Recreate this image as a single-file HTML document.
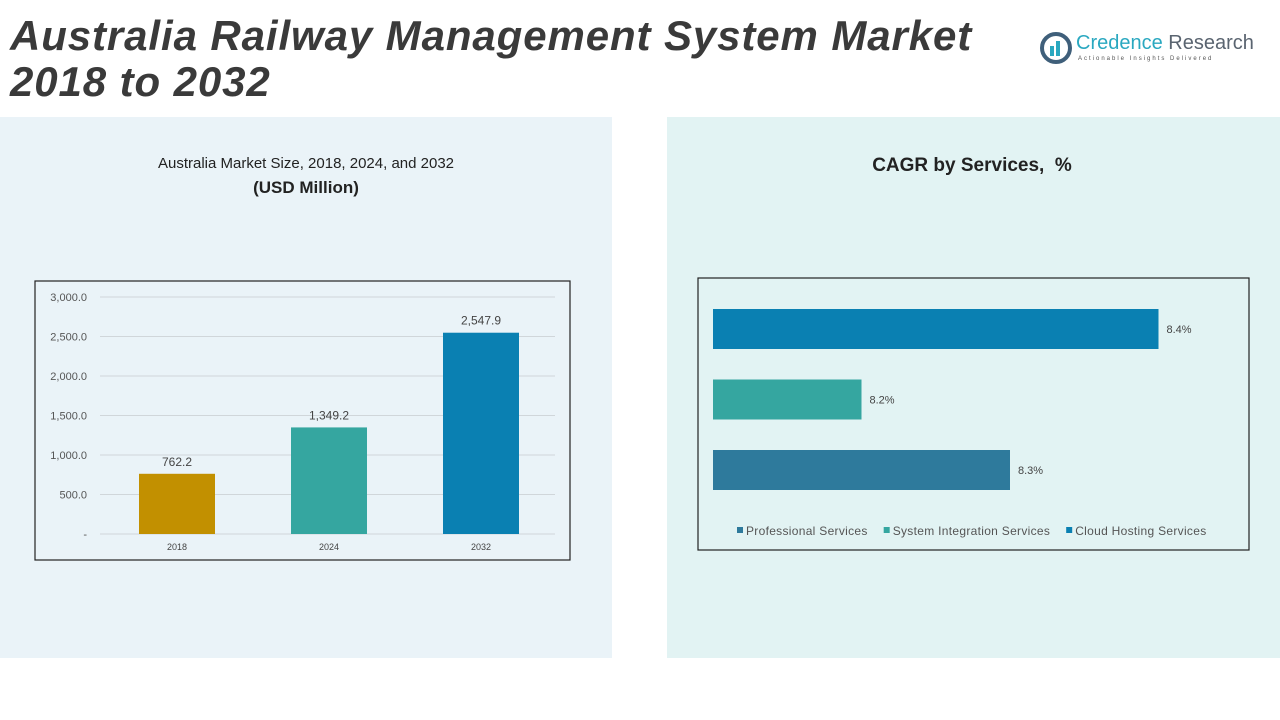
<!DOCTYPE html>
<html><head><meta charset="utf-8"><style>
body{margin:0;width:1280px;height:720px;background:#fff;position:relative;overflow:hidden;font-family:"Liberation Sans",sans-serif}
.abs{position:absolute}
</style></head><body>
<div class="abs" style="left:0;top:117px;width:612px;height:541px;background:#eaf3f8"></div>
<div class="abs" style="left:667px;top:117px;width:613px;height:541px;background:#e2f3f3"></div>
<div class="abs" style="left:10px;top:13px;font-size:42px;font-weight:bold;font-style:italic;color:#3a3a3a;line-height:46px;letter-spacing:0.9px">Australia Railway Management System Market<br>2018 to 2032</div>
<div class="abs" style="left:1040px;top:32px;width:215px;height:36px">
<svg width="32" height="32" style="position:absolute;left:0;top:0"><circle cx="16" cy="16" r="14" fill="none" stroke="#3f5f7a" stroke-width="4"/><rect x="10" y="14" width="4" height="10" fill="#2aa8c0"/><rect x="16" y="9" width="4" height="15" fill="#2aa8c0"/></svg>
<div class="abs" style="left:36px;top:0;font-size:20px;color:#2aa8c0;white-space:nowrap">Credence <span style="color:#5a6470">Research</span></div>
<div class="abs" style="left:38px;top:24px;font-size:6px;letter-spacing:2px;color:#555;white-space:nowrap">Actionable Insights Delivered</div>
</div>
<div class="abs" style="left:0;width:612px;top:152px;text-align:center;font-size:15px;color:#222;line-height:24px">Australia Market Size, 2018, 2024, and 2032<br><b style="font-size:17px">(USD Million)</b></div>
<div class="abs" style="left:667px;width:610px;top:155px;text-align:center;font-size:19px;font-weight:bold;color:#222">CAGR by Services,&nbsp; %</div>
<svg class="abs" style="left:0;top:0" width="1280" height="720" id="charts">
<rect x="35" y="281" width="535" height="279" fill="none" stroke="#222" stroke-width="1.2"/>
<rect x="698" y="278" width="551" height="272" fill="none" stroke="#222" stroke-width="1.2"/>
</svg>
<script>
const years=["2018","2024","2032"];
const sizes=[762.2,1349.2,2547.9];
const sizeLabels=["762.2","1,349.2","2,547.9"];
const yTicks=[0,500,1000,1500,2000,2500,3000];
const yTickLabels=["-","500.0","1,000.0","1,500.0","2,000.0","2,500.0","3,000.0"];
const barColors=["#c29000","#35a6a0","#0a80b2"];
const services=["Cloud Hosting Services","System Integration Services","Professional Services"];
const cagr=[8.4,8.2,8.3];
const cagrColors=["#0a80b2","#35a6a0","#2e7a9c"];
const legendOrder=["Professional Services","System Integration Services","Cloud Hosting Services"];
const legendColors=["#2e7a9c","#35a6a0","#0a80b2"];
const NS="http://www.w3.org/2000/svg";
const svg=document.getElementById('charts');
function mk(t,a,txt){const e=document.createElementNS(NS,t);for(const k in a)e.setAttribute(k,a[k]);if(txt!==undefined)e.textContent=txt;svg.appendChild(e);return e;}
const y=v=>534-v/3000*237;
const xc=i=>177+i*152;
yTicks.forEach((t,i)=>{
 const g=mk('line',{x1:100,x2:555,y1:y(t),y2:y(t),stroke:'#d0d6da','stroke-width':1});
 
 
 const l=mk('text',{x:87,y:y(t)+4,'text-anchor':'end','font-size':11,fill:'#555'},yTickLabels[i]);
 
 
});
years.forEach((yr,i)=>{
 const b=mk('rect',{x:xc(i)-38,y:y(sizes[i]),width:76,height:534-y(sizes[i]),fill:barColors[i]});
 
 
 const v=mk('text',{x:xc(i),y:y(sizes[i])-8,'text-anchor':'middle','font-size':12,fill:'#444'},sizeLabels[i]);
 
 
 const xl=mk('text',{x:xc(i),y:550,'text-anchor':'middle','font-size':9,fill:'#444'},yr);
 
 
});
const hx=v=>713+(v-8.1)*1485;
cagr.forEach((v,i)=>{
 const top=309+i*70.5;
 const b=mk('rect',{x:713,y:top,width:hx(v)-713,height:40,fill:cagrColors[i]});
 
 
 const l=mk('text',{x:hx(v)+8,y:top+24,'font-size':11,fill:'#444'},v.toFixed(1)+'%');
 
 
});
let lx=737;
legendOrder.forEach((s,i)=>{
 const m=mk('rect',{x:lx,y:527,width:6,height:6,fill:legendColors[i]});
 
 
 const t=mk('text',{x:lx+9,y:535,'font-size':12,fill:'#555','letter-spacing':'0.3'},s);
 
 
 lx+=9+t.getComputedTextLength()+16;
});
</script>
</body></html>
